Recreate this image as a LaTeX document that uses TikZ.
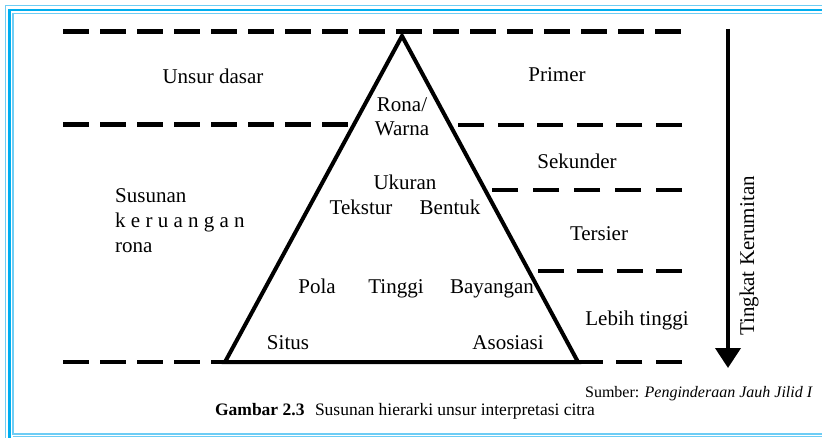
\documentclass[tikz,border=0pt]{standalone}
\usepackage{fontspec}
\setmainfont{Liberation Serif}
\usetikzlibrary{arrows.meta}
\definecolor{framecyan}{RGB}{0,174,239}
\definecolor{framelight}{RGB}{110,205,245}
\tikzstyle{word} = [inner sep=0pt, anchor=base, font=\fontsize{21}{25}\selectfont]
\tikzstyle{note} = [inner sep=0pt, anchor=base, font=\fontsize{16}{19}\selectfont]
\tikzstyle{levelline} = [dash pattern=on 26pt off 11pt, line width=4.7pt]
\tikzstyle{rightline} = [levelline, dash pattern=on 26pt off 13.6pt]
\tikzstyle{pyramid} = [line width=4pt, line join=miter]
\tikzstyle{arrow} = [line width=4pt, -{Triangle[length=20pt,width=25pt]}]

\begin{document}
\begin{tikzpicture}[x=1pt, y=-1pt]
\useasboundingbox (0,0) rectangle (822,438);

% frame
\draw [framelight, line width=1.6pt] (822,5.7) -- (5.5,5.7) -- (5.5,438);
\draw [framecyan, line width=2.6pt] (822,10) -- (9.2,10) -- (9.2,438);
\draw [framelight, line width=1.6pt] (822,13.6) -- (12.8,13.6) -- (12.8,434) -- (822,434);
\draw [framelight, line width=1pt] (12.8,436.8) -- (822,436.8);

% level lines
\draw [levelline] (63,31.5) -- (682,31.5);
\draw [levelline] (63,124.5) -- (350,124.5);
\draw [rightline] (682,125) -- (457,125);
\draw [rightline, dash pattern=on 26pt off 15pt] (682,190) -- (492,190);
\draw [rightline, dash pattern=on 26pt off 13.3pt] (682,271) -- (538,271);
\draw [levelline] (63,362) -- (226,362);
\draw [rightline] (682,362) -- (577,362);

% pyramid
\coordinate (apex) at (402,36);
\coordinate (baseleft) at (225,362);
\coordinate (baseright) at (578,362);
\draw [pyramid] (apex) -- (baseleft) -- (baseright) -- cycle;

% left column
\node (unsur) [word] at (213,84) {Unsur dasar};
\node (susunan) [word, anchor=base west] at (115,203) {Susunan};
\node (keruangan) [word, anchor=base west] at (115,228) {k e r u a n g a n};
\node (ronaleft) [word, anchor=base west] at (115,253) {rona};

% inside pyramid
\node (rona) [word] at (402,112) {Rona/};
\node (warna) [word] at (402,136) {Warna};
\node (ukuran) [word] at (405,190) {Ukuran};
\node (tekstur) [word] at (361,215) {Tekstur};
\node (bentuk) [word] at (450,215) {Bentuk};
\node (pola) [word] at (317,294) {Pola};
\node (tinggi) [word] at (396,294) {Tinggi};
\node (bayangan) [word] at (492,294) {Bayangan};
\node (situs) [word] at (288,349) {Situs};
\node (asosiasi) [word] at (508,349) {Asosiasi};

% right column
\node (primer) [word] at (557,82) {Primer};
\node (sekunder) [word] at (577,169) {Sekunder};
\node (tersier) [word] at (599,241) {Tersier};
\node (lebih) [word] at (637,326) {Lebih tinggi};

% complexity axis
\coordinate (simple) at (728,29);
\coordinate (complex) at (728,368);
\draw [arrow] (simple) -- (complex);
\node (kerumitan) [word, rotate=90] at (754,256) {Tingkat Kerumitan};

% caption
\node (sumber) [note, anchor=base east] at (813,397) {Sumber: \textit{Penginderaan Jauh Jilid I}};
\node (gambar) [note, font=\fontsize{17.5}{20}\selectfont] at (405,415) {\textbf{Gambar 2.3}\hspace{0.6em}Susunan hierarki unsur interpretasi citra};

\end{tikzpicture}
\end{document}
